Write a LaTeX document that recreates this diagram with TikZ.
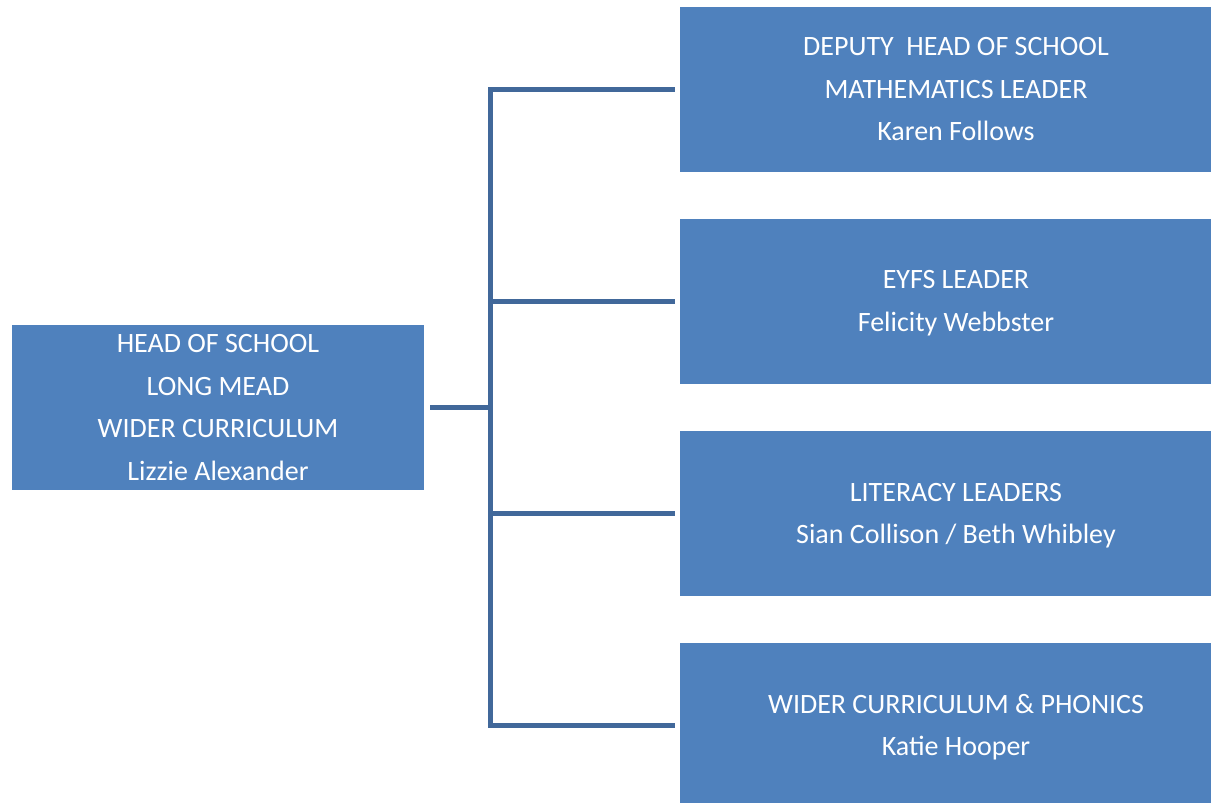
\documentclass[tikz,border=0pt]{standalone}
\usepackage{amsmath}
\usepackage{fontspec}
\setmainfont{Carlito}
\definecolor{boxblue}{HTML}{4F81BD}
\definecolor{lineblue}{HTML}{41689A}
\begin{document}
\begin{tikzpicture}[x=1pt,y=-1pt,
  orgbox/.style={fill=boxblue, draw=none, inner sep=0pt, text=white, align=center,
    font=\fontsize{28}{42.5}\selectfont},
  leftbox/.style={orgbox, minimum width=412pt, minimum height=165pt},
  rightbox/.style={orgbox, minimum width=552pt, minimum height=165pt},
  conn/.style={draw=lineblue, line width=5pt}]
\useasboundingbox (0,0) rectangle (1211,803);
\node[leftbox] (head) at (218,407.5) {HEAD OF SCHOOL\\LONG MEAD\\WIDER CURRICULUM\\Lizzie Alexander};
\node[rightbox] (b1) at (956,89.5) {DEPUTY\ \ HEAD OF SCHOOL\\MATHEMATICS LEADER\\Karen Follows};
\node[rightbox] (b2) at (956,301) {EYFS LEADER\\\smash[b]{Felicity Webbster}};
\node[rightbox] (b3) at (956,513.5) {LITERACY LEADERS\\\smash[b]{Sian Collison / Beth Whibley}};
\node[rightbox] (b4) at (956,725) {WIDER CURRICULUM \& PHONICS\\\smash[b]{Katie Hooper}};
\coordinate (bus) at (490,0);
\draw[conn] ([xshift=-5pt]b1.west) -- (b1.west -| bus) -- (b4.west -| bus) -- ([xshift=-5pt]b4.west);
\draw[conn] ([xshift=-5pt]b2.west) -- (b2.west -| bus);
\draw[conn] ([xshift=-5pt]b3.west) -- (b3.west -| bus);
\draw[conn] ([xshift=6pt]head.east) -- (head.east -| bus);
\end{tikzpicture}
\end{document}
